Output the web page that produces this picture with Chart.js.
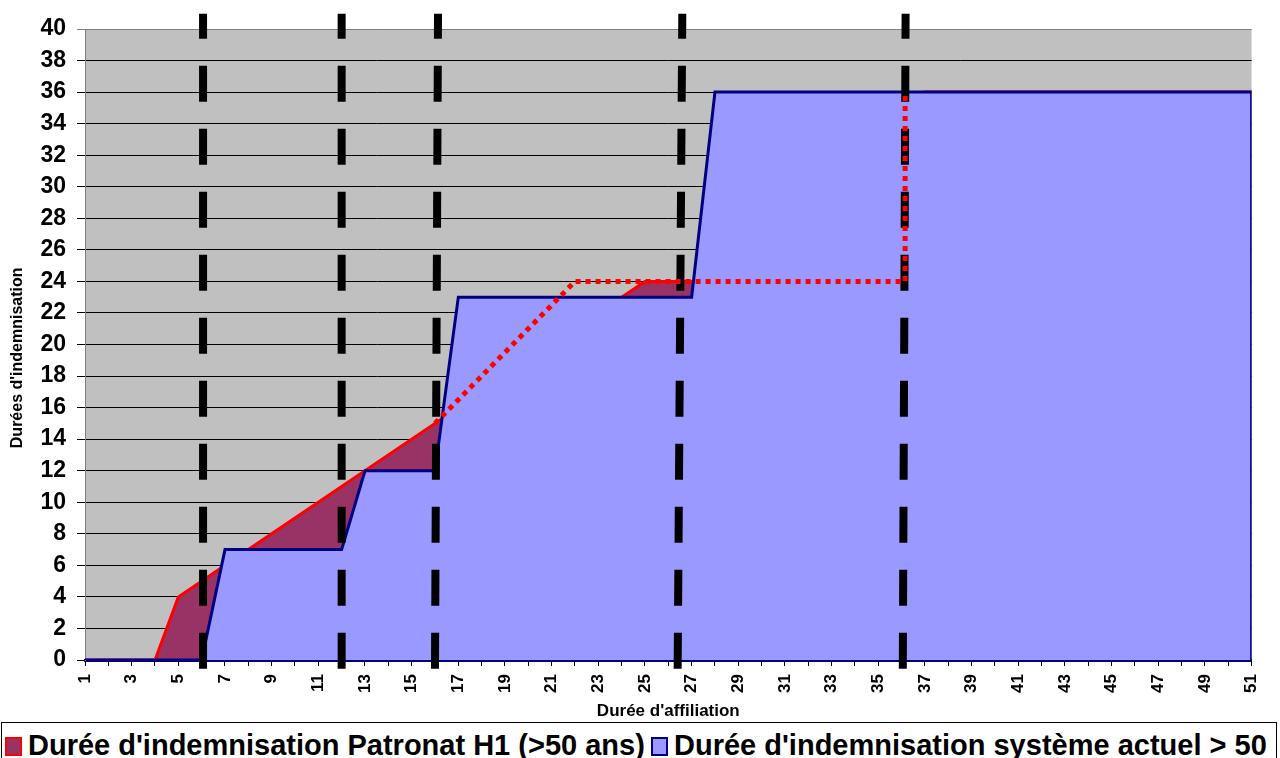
<!DOCTYPE html>
<html>
<head>
<meta charset="utf-8">
<script src="https://cdn.jsdelivr.net/npm/chart.js@4.4.1/dist/chart.umd.min.js"></script>
<style>
  html, body { margin: 0; padding: 0; background: #fff; overflow: hidden; }
  #wrap { position: relative; width: 1280px; height: 758px; }
  #chart { position: absolute; left: 0; top: 0; }
  #legend {
    position: absolute; left: 1px; top: 722px; width: 1276px; height: 50px;
    border: 1px solid #000; box-sizing: border-box; white-space: nowrap; overflow: hidden;
    font: bold 29px "Liberation Sans", Arial, sans-serif; color: #000;
  }
  .item { position: absolute; top: 6px; overflow: hidden; }
  .box { display: inline-block; width: 13px; height: 15px; border: 2px solid; vertical-align: -1px; margin-right: 6px; }
</style>
</head>
<body>
<div id="wrap">
  <canvas id="chart" width="1280" height="722"></canvas>
  <div id="legend">
    <span class="item" style="left:3px"><span class="box" style="border-color:#ff0000;background:#993366"></span>Durée d'indemnisation Patronat H1 (&gt;50 ans)</span>
    <span class="item" style="left:649px;width:621px"><span class="box" style="border-color:#000080;background:#9999ff"></span>Durée d'indemnisation système actuel &gt; 50 ans</span>
  </div>
</div>
<script>
// durée d'affiliation 1..51
const affiliation = [1, 2, 3, 4, 5, 6, 7, 8, 9, 10, 11, 12, 13, 14, 15, 16, 17, 18, 19, 20,
  21, 22, 23, 24, 25, 26, 27, 28, 29, 30, 31, 32, 33, 34, 35, 36, 37, 38, 39, 40,
  41, 42, 43, 44, 45, 46, 47, 48, 49, 50, 51];

const patronatH1 = [0, 0, 0, 0, 4, 5, 6, 7, 8, 9, 10, 11, 12, 13, 14, 15, 16, 17, 18, 19,
  20, 21, 22, 23, 24, 24, 24, 24, 24, 24, 24, 24, 24, 24, 24, 24, 36, 36, 36, 36,
  36, 36, 36, 36, 36, 36, 36, 36, 36, 36, 36];

const systemeActuel = [0, 0, 0, 0, 0, 0, 7, 7, 7, 7, 7, 7, 12, 12, 12, 12, 23, 23, 23, 23,
  23, 23, 23, 23, 23, 23, 23, 36, 36, 36, 36, 36, 36, 36, 36, 36, 36, 36, 36, 36,
  36, 36, 36, 36, 36, 36, 36, 36, 36, 36, 36];

// ligne pointillée rouge
const trendX = [16, 22, 36.15, 36.15];
const trendY = [15, 24, 24, 36];

// lignes verticales en tirets (haut / bas)
const seuilsHaut = [6.06, 12.0, 16.13, 26.6, 36.17];
const seuilsBas = [6.06, 12.0, 16.0, 26.4, 36.05];
const seuilYHaut = 40.97;
const seuilYBas = -0.76;

const yTicks = [0, 2, 4, 6, 8, 10, 12, 14, 16, 18, 20, 22, 24, 26, 28, 30, 32, 34, 36, 38, 40];

const toPoints = (xs, ys) => xs.map((x, i) => ({ x: x, y: ys[i] }));

const bluePoints = toPoints(affiliation, systemeActuel);
bluePoints.push({ x: affiliation[affiliation.length - 1], y: 0 });

const seuilDatasets = seuilsHaut.map((x, i) => ({
  label: 'seuil' + i,
  data: [{ x: x, y: seuilYHaut }, { x: seuilsBas[i], y: seuilYBas }],
  borderColor: '#000000',
  borderWidth: 8,
  borderDash: [36, 27],
  borderDashOffset: 11,
  borderCapStyle: 'butt',
  pointRadius: 0,
  fill: false,
  clip: false,
  order: 1
}));

const plotBackground = {
  id: 'plotBackground',
  beforeDraw(chart) {
    const { ctx, chartArea } = chart;
    ctx.save();
    ctx.fillStyle = '#c0c0c0';
    ctx.fillRect(chartArea.left, chartArea.top, chartArea.right - chartArea.left, chartArea.bottom - chartArea.top);
    ctx.restore();
  }
};

const chart = new Chart(document.getElementById('chart'), {
  type: 'line',
  data: {
    datasets: [
      {
        label: "Durée d'indemnisation Patronat H1 (>50 ans)",
        data: toPoints(affiliation, patronatH1),
        borderColor: '#ff0000',
        backgroundColor: '#993366',
        borderWidth: 3,
        pointRadius: 0,
        fill: 'origin',
        order: 3
      },
      {
        label: "Durée d'indemnisation système actuel > 50 ans",
        data: bluePoints,
        borderColor: '#000080',
        backgroundColor: '#9999ff',
        borderWidth: 3,
        pointRadius: 0,
        fill: 'origin',
        order: 2
      },
      ...seuilDatasets,
      {
        label: 'tendance',
        data: toPoints(trendX, trendY),
        borderColor: '#ff0000',
        borderWidth: 5,
        borderDash: [5, 5],
        borderCapStyle: 'butt',
        pointRadius: 0,
        fill: false,
        clip: false,
        order: 0
      }
    ]
  },
  plugins: [plotBackground],
  options: {
    responsive: false,
    devicePixelRatio: 1,
    animation: false,
    layout: { padding: { top: 29, right: 27, left: 0, bottom: 0 } },
    plugins: {
      legend: { display: false },
      tooltip: { enabled: false }
    },
    scales: {
      x: {
        type: 'linear',
        min: 1,
        max: 51,
        afterFit: s => { s.height = 62; },
        ticks: {
          stepSize: 1,
          autoSkip: false,
          maxRotation: 90,
          minRotation: 90,
          padding: 8,
          color: '#000',
          font: { family: 'Liberation Sans, Arial', size: 17, weight: 'bold' },
          callback: v => (v % 2 === 1 ? String(v) : '')
        },
        grid: { drawOnChartArea: false, drawTicks: true, tickLength: 6, color: '#000', lineWidth: 1 },
        border: { color: '#000080', width: 3 },
        title: {
          display: true,
          text: "Durée d'affiliation",
          color: '#000',
          padding: { top: 0, bottom: 0 },
          font: { family: 'Liberation Sans, Arial', size: 17, weight: 'bold' }
        }
      },
      y: {
        min: 0,
        max: 40,
        afterFit: s => { s.width = 85; },
        afterBuildTicks: s => { s.ticks = yTicks.map(v => ({ value: v })); },
        ticks: {
          padding: 11,
          color: '#000',
          font: { family: 'Liberation Sans, Arial', size: 23, weight: 'bold' }
        },
        grid: {
          tickLength: 8,
          lineWidth: 1,
          color: ctx => (ctx.tick && ctx.tick.value === 40 ? '#808080' : '#000000')
        },
        border: { color: '#808080', width: 1 },
        title: {
          display: true,
          text: "Durées d'indemnisation      ",
          color: '#000',
          padding: { top: 8, bottom: 0 },
          font: { family: 'Liberation Sans, Arial', size: 16, weight: 'bold' }
        }
      }
    }
  }
});
</script>
</body>
</html>
